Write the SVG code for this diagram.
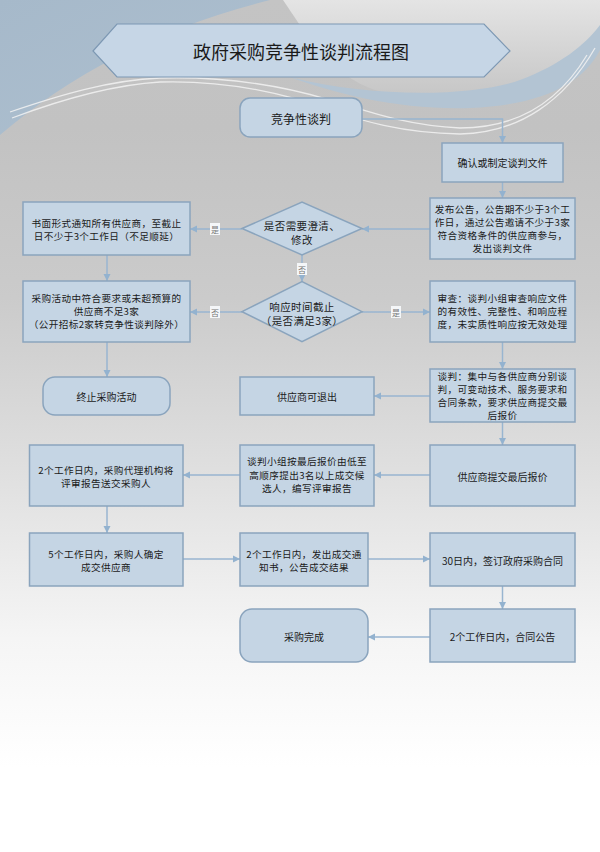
<svg xmlns="http://www.w3.org/2000/svg" width="600" height="852" viewBox="0 0 600 852">
<defs>
<linearGradient id="bg" x1="0" y1="0" x2="0" y2="1">
<stop offset="0" stop-color="#c4c4c4"/>
<stop offset="0.15" stop-color="#c2c2c2"/>
<stop offset="0.35" stop-color="#cbcbcb"/>
<stop offset="0.55" stop-color="#dfdfdf"/>
<stop offset="0.75" stop-color="#f5f5f5"/>
<stop offset="0.9" stop-color="#ffffff"/>
</linearGradient>
<linearGradient id="tr" x1="0" y1="0" x2="0" y2="1">
<stop offset="0" stop-color="#e4e4e4"/>
<stop offset="1" stop-color="#c6c6c6"/>
</linearGradient>
<linearGradient id="bl" x1="0" y1="0" x2="1" y2="1">
<stop offset="0" stop-color="#a6b9ca"/>
<stop offset="1" stop-color="#aec0d0"/>
</linearGradient>
<marker id="ah" markerUnits="userSpaceOnUse" markerWidth="8" markerHeight="8" refX="7" refY="4" orient="auto">
<path d="M0,0.5 L7,4 L0,7.5 Z" fill="#93b2cf"/>
</marker>
<style>
.box{fill:#c5d5e4;stroke:#8aa4bd;stroke-width:1.5}
.t{font-family:"Noto Sans CJK SC","Noto Sans",sans-serif;font-size:10px;fill:#1a1a1a;text-anchor:middle;dominant-baseline:central}
.m{font-size:9.6px;letter-spacing:0.4px}
.dt{font-size:10.5px;letter-spacing:0.4px}
.ln{fill:none;stroke:#98b5d0;stroke-width:1.5;marker-end:url(#ah)}
.lb{fill:#f4f6f8}
.lt{font-family:"Noto Sans CJK SC","Noto Sans",sans-serif;font-size:8px;fill:#777;text-anchor:middle;dominant-baseline:central}
.sw{fill:none;stroke:#f2f2f2;stroke-width:1.3;opacity:0.85}
</style>
</defs>
<g id="background">
<rect x="0" y="0" width="600" height="852" fill="url(#bg)"/>
<path d="M283,0 L600,0 L600,40 C 560,90 480,100 400,95 C 340,90 310,40 283,0 Z" fill="url(#tr)"/>
<path d="M0,0 L270,0 Q 110,40 0,135 Z" fill="url(#bl)"/>
<path d="M 290,77 C 380,100 480,95 520,80 C 560,65 585,45 600,25 L 600,50 C 582,85 540,105 470,108 C 400,110 340,95 290,77 Z" fill="#b3c4d3"/>
<path class="sw" d="M 10,112 C 60,95 110,80 160,78 C 230,76 290,88 330,100 C 360,108 400,125 460,128 C 520,128 560,100 587,55"/>
<path class="sw" d="M 12,118 C 60,100 110,85 160,82 C 230,80 290,95 330,110 C 360,120 400,133 460,134 C 520,133 565,100 595,48"/>
</g>
<g id="title">
<polygon points="93,51 117,24 484,24 510,51 484,77 117,77" fill="#c6d6e6" stroke="#7d98b3" stroke-width="1.2"/>
<text class="t" x="301" y="51" style="font-size:18px">政府采购竞争性谈判流程图</text>
</g>
<g id="connectors">
<path class="ln" d="M362,119 L502.5,119 L502.5,143"/>
<path class="ln" d="M502.5,182 L502.5,198"/>
<path class="ln" d="M430,229 L362,229"/>
<path class="ln" d="M242,229 L190,229"/>
<path class="ln" d="M107,255 L107,281"/>
<path class="ln" d="M302,255 L302,281.5"/>
<path class="ln" d="M242,312 L190,312"/>
<path class="ln" d="M362,312 L430,312"/>
<path class="ln" d="M107,342 L107,377"/>
<path class="ln" d="M502.5,342 L502.5,369"/>
<path class="ln" d="M430,396 L374,396"/>
<path class="ln" d="M502.5,422 L502.5,445"/>
<path class="ln" d="M430,475 L374,475"/>
<path class="ln" d="M240,475 L183,475"/>
<path class="ln" d="M107,506 L107,533"/>
<path class="ln" d="M183,559 L240,559"/>
<path class="ln" d="M368,559 L430,559"/>
<path class="ln" d="M502.5,586 L502.5,609"/>
<path class="ln" d="M430,637 L368,637"/>
<rect class="lb" x="210" y="223" width="10" height="12"/>
<text class="lt" x="215" y="229">是</text>
<rect class="lb" x="297" y="263" width="10" height="12"/>
<text class="lt" x="302" y="269">否</text>
<rect class="lb" x="210" y="306" width="10" height="12"/>
<text class="lt" x="215" y="312">否</text>
<rect class="lb" x="391" y="306" width="10" height="12"/>
<text class="lt" x="396" y="312">是</text>
</g>
<g id="n1">
<rect class="box" x="240" y="98" width="122" height="39" rx="10"/>
<text class="t" x="301" y="118" style="font-size:12px">竞争性谈判</text>
</g>
<g id="n2">
<rect class="box" x="442" y="143" width="121" height="39"/>
<text class="t" x="502.5" y="162.5">确认或制定谈判文件</text>
</g>
<g id="n3">
<rect class="box" x="430" y="198" width="145" height="61"/>
<text class="t m"><tspan x="502.5" y="209">发布公告，公告期不少于3个工</tspan><tspan x="502.5" y="222">作日，通过公告邀请不少于3家</tspan><tspan x="502.5" y="235">符合资格条件的供应商参与，</tspan><tspan x="502.5" y="248">发出谈判文件</tspan></text>
</g>
<g id="d1">
<polygon class="box" points="242,228.5 302,202 362,228.5 302,255"/>
<text class="t dt"><tspan x="302" y="225">是否需要澄清、</tspan><tspan x="302" y="239">修改</tspan></text>
</g>
<g id="n4">
<rect class="box" x="23" y="202" width="167" height="53"/>
<text class="t m"><tspan x="106.5" y="222.5">书面形式通知所有供应商，至截止</tspan><tspan x="106.5" y="235.5">日不少于3个工作日（不足顺延）</tspan></text>
</g>
<g id="d2">
<polygon class="box" points="242,311.7 302,281.7 362,311.7 302,341.7"/>
<text class="t dt"><tspan x="302" y="305.5">响应时间截止</tspan><tspan x="302" y="319.5">（是否满足3家）</tspan></text>
</g>
<g id="n5">
<rect class="box" x="23" y="281" width="167" height="61"/>
<text class="t m"><tspan x="106.5" y="297.5">采购活动中符合要求或未超预算的</tspan><tspan x="106.5" y="310.5">供应商不足3家</tspan><tspan x="106.5" y="323.5">（公开招标2家转竞争性谈判除外）</tspan></text>
</g>
<g id="n6">
<rect class="box" x="430" y="281" width="145" height="61"/>
<text class="t m"><tspan x="502.5" y="297.5">审查：谈判小组审查响应文件</tspan><tspan x="502.5" y="310.5">的有效性、完整性、和响应程</tspan><tspan x="502.5" y="323.5">度，未实质性响应按无效处理</tspan></text>
</g>
<g id="n7">
<rect class="box" x="43" y="377" width="127" height="38" rx="12"/>
<text class="t" x="106.5" y="396.5">终止采购活动</text>
</g>
<g id="n8">
<rect class="box" x="430" y="369" width="145" height="53"/>
<text class="t m"><tspan x="502.5" y="375.5">谈判：集中与各供应商分别谈</tspan><tspan x="502.5" y="388.5">判，可变动技术、服务要求和</tspan><tspan x="502.5" y="401.5">合同条款，要求供应商提交最</tspan><tspan x="502.5" y="414.5">后报价</tspan></text>
</g>
<g id="n9">
<rect class="box" x="240" y="377" width="134" height="38"/>
<text class="t" x="307" y="396.5">供应商可退出</text>
</g>
<g id="n10">
<rect class="box" x="430" y="445" width="145" height="61"/>
<text class="t" x="502.5" y="476.5">供应商提交最后报价</text>
</g>
<g id="n11">
<rect class="box" x="240" y="445" width="134" height="61"/>
<text class="t m"><tspan x="307" y="461">谈判小组按最后报价由低至</tspan><tspan x="307" y="474.5">高顺序提出3名以上成交候</tspan><tspan x="307" y="488">选人，编写评审报告</tspan></text>
</g>
<g id="n12">
<rect class="box" x="29.5" y="445" width="153.5" height="61"/>
<text class="t m"><tspan x="106" y="470">2个工作日内，采购代理机构将</tspan><tspan x="106" y="483">评审报告送交采购人</tspan></text>
</g>
<g id="n13">
<rect class="box" x="29.5" y="533" width="153.5" height="53"/>
<text class="t m"><tspan x="106" y="553.5">5个工作日内，采购人确定</tspan><tspan x="106" y="566.5">成交供应商</tspan></text>
</g>
<g id="n14">
<rect class="box" x="240" y="533" width="128" height="53"/>
<text class="t m"><tspan x="304" y="553.5">2个工作日内，发出成交通</tspan><tspan x="304" y="566.5">知书，公告成交结果</tspan></text>
</g>
<g id="n15">
<rect class="box" x="430" y="533" width="145" height="53"/>
<text class="t" x="502.5" y="560.5">30日内，签订政府采购合同</text>
</g>
<g id="n16">
<rect class="box" x="430" y="609" width="145" height="53"/>
<text class="t" x="502.5" y="636.5">2个工作日内，合同公告</text>
</g>
<g id="n17">
<rect class="box" x="240" y="609" width="128" height="53" rx="12"/>
<text class="t" x="304" y="636.5">采购完成</text>
</g>
</svg>
